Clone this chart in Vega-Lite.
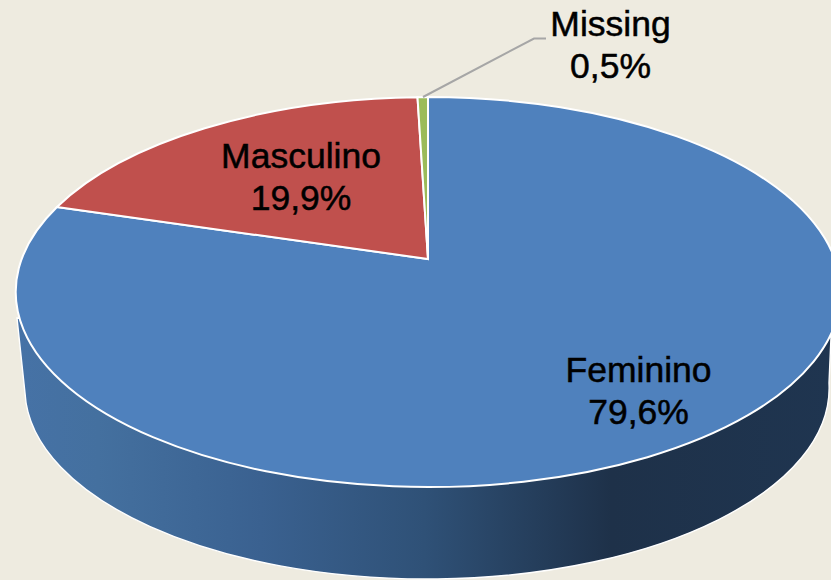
{
  "$schema": "https://vega.github.io/schema/vega-lite/v6.json",
  "width": 831,
  "height": 580,
  "padding": 0,
  "autosize": "none",
  "background": "#EEEBE0",
  "config": {"view": {"stroke": null}},
  "data": {"values": [
    {"category": "Feminino", "share": 79.6},
    {"category": "Masculino", "share": 19.9},
    {"category": "Missing", "share": 0.5}
  ]},
  "transform": [
    {"calculate": "datum.category + '|' + replace(format(datum.share, '.1f'), '.', ',') + '%'", "as": "label"}
  ],
  "layer": [
    {
      "transform": [{"filter": "datum.category === 'Feminino'"}],
      "mark": {
        "type": "point", "filled": true, "size": 4, "opacity": 1, "clip": true,
        "shape": "M-398.5,28 L-390.5,103 A402,191 0 0 0 413.5,93 L415.5,47 Z",
        "fill": {"gradient": "linear", "x1": 0, "y1": 0, "x2": 1, "y2": 0, "stops": [
          {"offset": 0, "color": "#4672A6"},
          {"offset": 0.1, "color": "#44709F"},
          {"offset": 0.3, "color": "#3A6190"},
          {"offset": 0.5, "color": "#2F5177"},
          {"offset": 0.73, "color": "#1E3149"},
          {"offset": 1, "color": "#1F3550"}
        ]},
        "stroke": "#FFFFFF", "strokeWidth": 1.4
      }
    },
    {
      "mark": {"type": "point", "filled": true, "size": 4, "opacity": 1, "clip": true, "stroke": "#FFFFFF", "strokeWidth": 2},
      "encoding": {
        "shape": {"field": "category", "type": "nominal", "legend": null, "scale": {
          "domain": ["Feminino", "Masculino", "Missing"],
          "range": [
            "M12.5,-31 L12.5,-193 A412.5,195 0 1 1 -358.5,-83 Z",
            "M12.5,-31 L-358.5,-83 A412.5,195 0 0 1 2,-192.7 Z",
            "M12.5,-31 L2,-192.7 A412.5,195 0 0 1 12.5,-193 Z"
          ]
        }},
        "fill": {"field": "category", "type": "nominal", "legend": null, "scale": {
          "domain": ["Feminino", "Masculino", "Missing"],
          "range": ["#4F81BD", "#C0504D", "#9BBB59"]
        }}
      }
    },
    {
      "transform": [{"filter": "datum.category === 'Missing'"}],
      "mark": {
        "type": "point", "filled": false, "size": 4, "opacity": 1,
        "shape": "M7.5,-193 L118.5,-251.5 L130.5,-251.5",
        "stroke": "#A6A6A6", "strokeWidth": 2
      }
    },
    {
      "transform": [{"filter": "datum.category === 'Feminino'"}],
      "mark": {"type": "text", "font": "Liberation Sans", "fontSize": 35.5, "lineBreak": "|", "lineHeight": 42, "baseline": "alphabetic", "align": "center", "color": "#000000", "stroke": "#000000", "strokeWidth": 0.5, "dx": 223, "dy": 92},
      "encoding": {"text": {"field": "label", "type": "nominal"}}
    },
    {
      "transform": [{"filter": "datum.category === 'Masculino'"}],
      "mark": {"type": "text", "font": "Liberation Sans", "fontSize": 35.5, "lineBreak": "|", "lineHeight": 42, "baseline": "alphabetic", "align": "center", "color": "#000000", "stroke": "#000000", "strokeWidth": 0.5, "dx": -114.5, "dy": -122},
      "encoding": {"text": {"field": "label", "type": "nominal"}}
    },
    {
      "transform": [{"filter": "datum.category === 'Missing'"}],
      "mark": {"type": "text", "font": "Liberation Sans", "fontSize": 35.5, "lineBreak": "|", "lineHeight": 42, "baseline": "alphabetic", "align": "center", "color": "#000000", "stroke": "#000000", "strokeWidth": 0.5, "dx": 195, "dy": -254},
      "encoding": {"text": {"field": "label", "type": "nominal"}}
    }
  ]
}
